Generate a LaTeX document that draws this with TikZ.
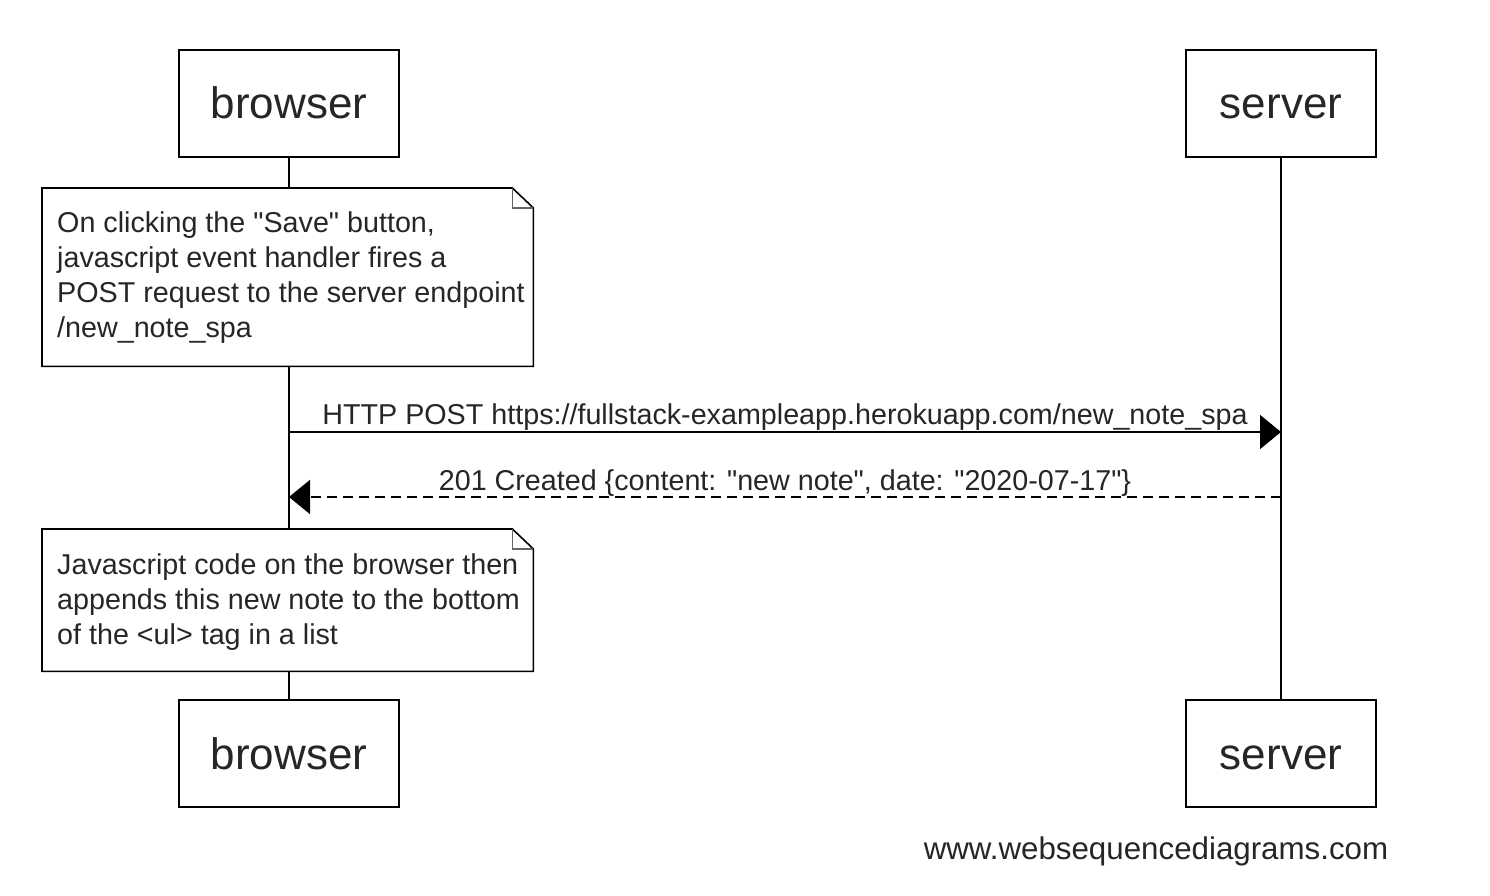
\documentclass[tikz,border=0pt]{standalone}
\usepackage{fontspec}
\setmainfont{Liberation Sans}
\usetikzlibrary{arrows.meta,calc}
\begin{document}
\begin{tikzpicture}[x=1pt,y=-1pt,
  actor/.style={draw,line width=1.6pt,fill=white,minimum width=220pt,minimum height=107pt,inner sep=0pt,text height=31pt,text depth=0pt,font=\fontsize{44}{50}\selectfont,text=black!85},
  actorsrv/.style={actor,minimum width=190pt},
  lifeline/.style={line width=1.6pt},
  notebox/.style={inner sep=0pt,minimum width=491pt,anchor=north west},
  noteline/.style={line width=1.6pt,fill=white},
  notetext/.style={inner sep=0pt,anchor=north west,align=left,font=\fontsize{28.7}{35}\selectfont,text=black!85},
  msg/.style={line width=1.6pt,-{Triangle[length=21pt,width=34pt]}},
  msglabel/.style={inner sep=0pt,anchor=base,font=\fontsize{28.7}{33}\selectfont,text=black!85},
]
\useasboundingbox[fill=white] (0,0) rectangle (1490,896);

% actors
\node[actor] (bt) at (289,103.5) {browser};
\node[actorsrv] (st) at (1281,103.5) {server};
\node[actor] (bb) at (289,753.5) {browser};
\node[actorsrv] (sb) at (1281,753.5) {server};

% lifelines
\draw[lifeline] (bt.south) -- (bb.north);
\draw[lifeline] (st.south) -- (sb.north);

% note 1
\node[notebox,minimum height=178pt] (n1) at (42,188) {};
\draw[noteline] (n1.north west) -- ([xshift=-21pt]n1.north east) -- ([yshift=-20pt]n1.north east) -- (n1.south east) -- (n1.south west) -- cycle;
\draw[line width=1.2pt,black!60] ([xshift=-21pt]n1.north east) -- ([xshift=-21pt,yshift=-20pt]n1.north east) -- ([yshift=-20pt]n1.north east);
\node[notetext] (t1) at (57,212) {On clicking the \textquotedbl Save\textquotedbl{} button,\\javascript event handler fires a\\POST request to the server endpoint\\/new\_note\_spa};

% messages
\coordinate (m1s) at (289,432);
\coordinate (m1e) at (1281,432);
\draw[msg] (m1s) -- (m1e) node[msglabel,pos=0.5,yshift=8pt] (l1) {HTTP POST https://fullstack-exampleapp.herokuapp.com/new\_note\_spa};
\coordinate (m2s) at (1281,497);
\coordinate (m2e) at (289,497);
\draw[msg,dash pattern=on 10pt off 6pt] (m2s) -- (m2e) node[msglabel,pos=0.5,yshift=7pt] (l2) {201 Created \{content: \textquotedbl new note\textquotedbl, date: \textquotedbl 2020-07-17\textquotedbl\}};

% note 2
\node[notebox,minimum height=142pt] (n2) at (42,529) {};
\draw[noteline] (n2.north west) -- ([xshift=-21pt]n2.north east) -- ([yshift=-20pt]n2.north east) -- (n2.south east) -- (n2.south west) -- cycle;
\draw[line width=1.2pt,black!60] ([xshift=-21pt]n2.north east) -- ([xshift=-21pt,yshift=-20pt]n2.north east) -- ([yshift=-20pt]n2.north east);
\node[notetext] (t2) at (57,553) {Javascript code on the browser then\\appends this new note to the bottom\\of the <ul> tag in a list};

% watermark
\node[inner sep=0pt,anchor=base,font=\fontsize{31.3}{36}\selectfont,text=black!85] (wm) at (1156,859) {www.websequencediagrams.com};
\end{tikzpicture}
\end{document}
